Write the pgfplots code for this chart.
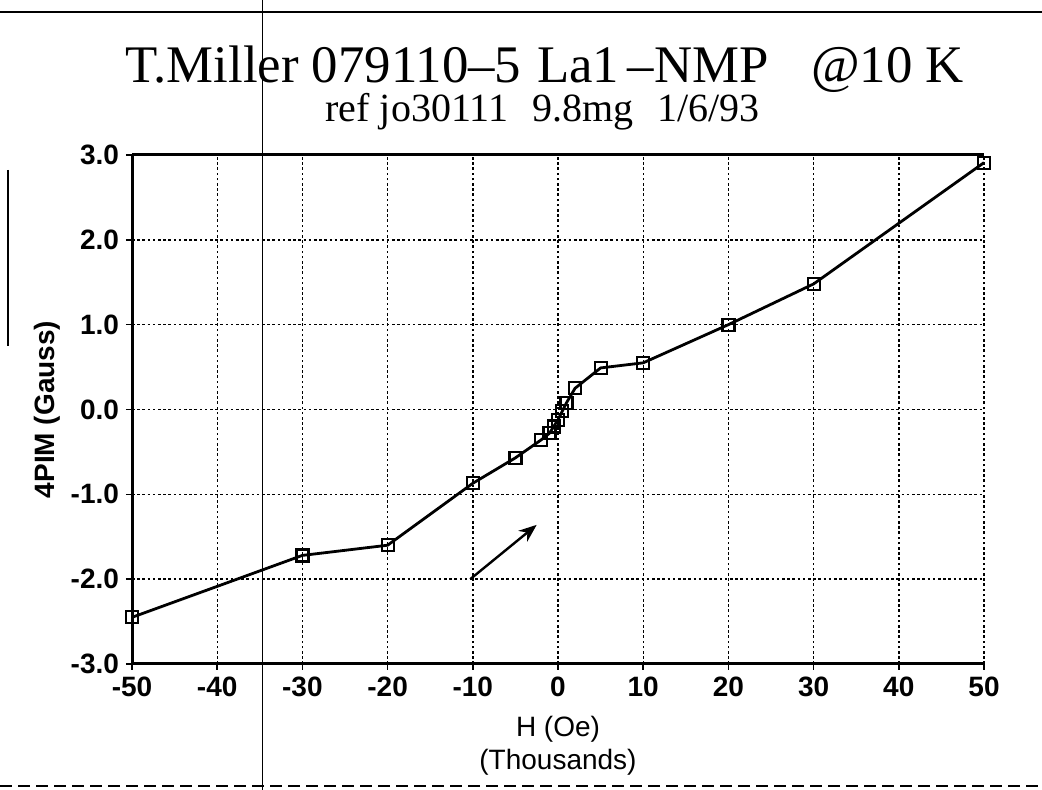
\documentclass[border=0pt]{standalone}
\usepackage{fontspec}
\setmainfont{Liberation Serif}
\newfontfamily\axisfont{Liberation Sans}
\usepackage{pgfplots}
\pgfplotsset{compat=1.18}
\usetikzlibrary{arrows.meta}
\begin{document}
\begin{tikzpicture}[x=1pt,y=1pt]
\path[use as bounding box] (0,0) rectangle (521,395);
% scan artefacts
\draw[line width=1pt] (0,389) -- (521,389);
\draw[line width=0.5pt] (131,0) -- (131,395);
\draw[line width=0.7pt] (4,310) -- (4,222);
\draw[line width=0.6pt, dash pattern=on 6pt off 3pt] (0,2) -- (521,2);
% titles
\node[anchor=base, inner sep=0pt] at (272.25,353.5) {\fontsize{26.4}{28}\selectfont T.Miller 079110–5\hspace{0.3em}La1\,–NMP\hspace{0.8em}@10 K};
\node[anchor=base, inner sep=0pt] at (271.25,334) {\fontsize{20}{22}\selectfont ref jo30111\hspace{0.6em}9.8mg\hspace{0.6em}1/6/93};
\begin{axis}[
  at={(66pt,63pt)}, anchor=south west, scale only axis,
  width=426pt, height=254.5pt,
  xmin=-50, xmax=50, ymin=-3, ymax=3,
  xtick={-50,-40,...,50}, ytick={-3,-2,...,3},
  xticklabels={-50,-40,-30,-20,-10,0,10,20,30,40,50},
  yticklabels={-3.0,-2.0,-1.0,0.0,1.0,2.0,3.0},
  axis x line=box, axis y line=left,
  axis line style={-, line width=1.5pt, black},
  xtick pos=lower, ytick pos=lower,
  tick align=outside, major tick length=3pt,
  tick style={black, line width=0.8pt},
  grid=major,
  major grid style={black, line width=0.7pt, dash pattern=on 1.3pt off 1.3pt},
  ticklabel style={font=\axisfont\bfseries\fontsize{14}{16}\selectfont},
  xlabel={H (Oe)\\(Thousands)},
  xlabel style={at={(axis description cs:0.5,-0.161)}, anchor=center, align=center, font=\axisfont\fontsize{14}{16.5}\selectfont},
  ylabel={4PIM (Gauss)},
  ylabel style={at={(axis description cs:-0.0998,0.5)}, anchor=center, font=\axisfont\bfseries\fontsize{14}{16}\selectfont},
  clip=false,
]
\addplot[black, line width=1.4pt, mark=square, mark size=3pt, mark options={line width=1.1pt}] coordinates {
(-50,-2.45) (-30,-1.72) (-20,-1.60) (-10,-0.87) (-5,-0.57) (-2,-0.36)
(-1,-0.28) (-0.5,-0.20) (0,-0.12) (0.5,-0.02) (1,0.08) (2,0.25)
(5,0.49) (10,0.55) (20,1.00) (30,1.48) (50,2.91)
};
\draw[black, line width=1.2pt, -{Stealth[length=9pt,width=7pt]}] (axis cs:-10.3,-2.0) -- (axis cs:-2.5,-1.36);
\end{axis}
\end{tikzpicture}
\end{document}
